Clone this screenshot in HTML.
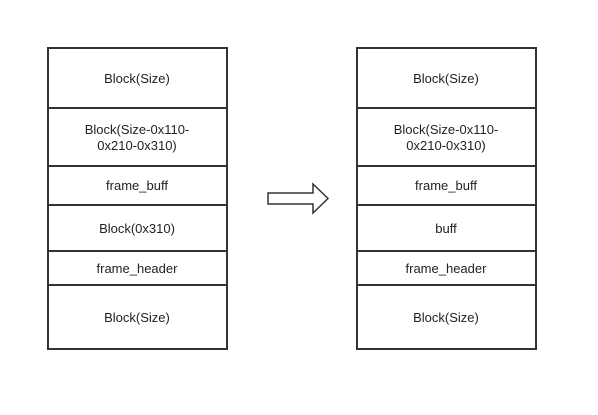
<!DOCTYPE html>
<html><head><style>
html,body{margin:0;padding:0;background:#fff;}
text{font-family:"Liberation Sans",sans-serif;font-size:13px;fill:#222;text-anchor:middle;}
</style></head><body>
<svg width="598" height="410" xmlns="http://www.w3.org/2000/svg">
<g fill="none" stroke="#333" stroke-width="2">
<rect x="48" y="48" width="179" height="301"/>
<line x1="48" y1="108" x2="227" y2="108"/>
<line x1="48" y1="166" x2="227" y2="166"/>
<line x1="48" y1="205" x2="227" y2="205"/>
<line x1="48" y1="251" x2="227" y2="251"/>
<line x1="48" y1="285" x2="227" y2="285"/>
<rect x="357" y="48" width="179" height="301"/>
<line x1="357" y1="108" x2="536" y2="108"/>
<line x1="357" y1="166" x2="536" y2="166"/>
<line x1="357" y1="205" x2="536" y2="205"/>
<line x1="357" y1="251" x2="536" y2="251"/>
<line x1="357" y1="285" x2="536" y2="285"/>
<polygon points="268,193 313,193 313,184 328,198.5 313,213 313,204 268,204" stroke-width="1.5"/>
</g>
<text x="137" y="83">Block(Size)</text>
<text x="137" y="134">Block(Size-0x110-</text>
<text x="137" y="150">0x210-0x310)</text>
<text x="137" y="190">frame_buff</text>
<text x="137" y="233">Block(0x310)</text>
<text x="137" y="273">frame_header</text>
<text x="137" y="322">Block(Size)</text>
<text x="446" y="83">Block(Size)</text>
<text x="446" y="134">Block(Size-0x110-</text>
<text x="446" y="150">0x210-0x310)</text>
<text x="446" y="190">frame_buff</text>
<text x="446" y="233">buff</text>
<text x="446" y="273">frame_header</text>
<text x="446" y="322">Block(Size)</text>
</svg>
</body></html>
